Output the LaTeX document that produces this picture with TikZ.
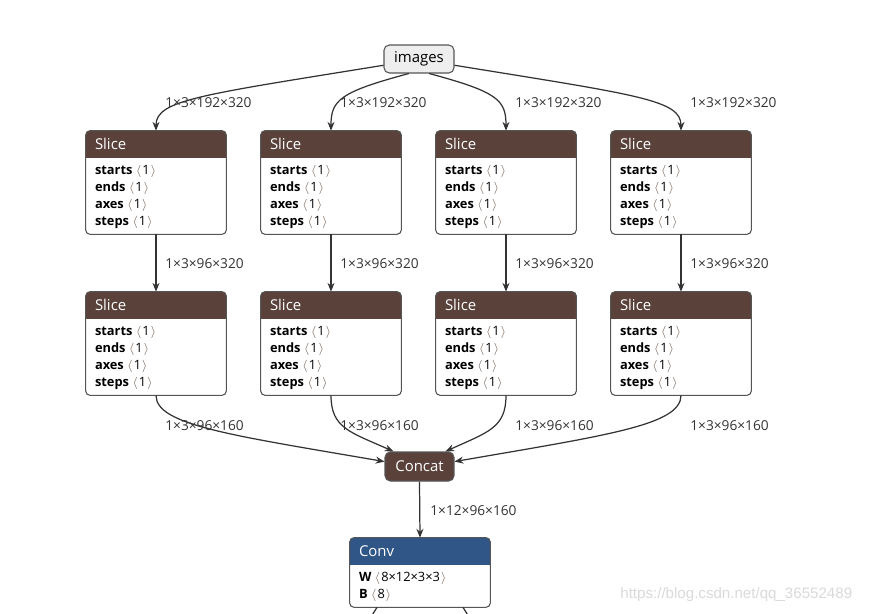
\documentclass[tikz,border=0pt]{standalone}
\usepackage{fontspec}
\setmainfont{Open Sans}
\newfontfamily\markfont{Liberation Sans}
\usetikzlibrary{positioning,calc,arrows.meta}
\definecolor{SliceBrown}{HTML}{5A423B}
\definecolor{ConvBlue}{HTML}{2F5687}
\definecolor{InputGrey}{HTML}{EEEEEE}
\definecolor{EdgeDark}{HTML}{333333}
\definecolor{BoxLine}{HTML}{555555}
\definecolor{AttrGrey}{HTML}{7A6A60}
\definecolor{MarkGrey}{HTML}{DADADA}

% value in angle brackets
\newcommand{\dimv}[1]{\textcolor{AttrGrey}{$\langle$}\kern0.5pt#1\kern0.5pt\textcolor{AttrGrey}{$\rangle$}}
% operator box: name, options, centre, header colour, title, attributes
\newcommand{\opbox}[6]{%
  \node[opbody,#2] (#1) at (#3) {};
  \fill[#4,rounded corners=2.5pt] (#1.north west) rectangle ($(#1.north east)+(0,27)$);
  \fill[#4] ($(#1.north west)+(0,20)$) rectangle ($(#1.north east)+(0,27)$);
  \draw[boxline] (#1.north west) rectangle (#1.south east);
  \node[optitle] at ($(#1.north west)+(9,13.5)$) {#5};
  \node[attrlist] at ($(#1.north west)+(9,34.5)$) {#6};
}

\begin{document}
\begin{tikzpicture}[x=0.02cm, y=-0.02cm, >={Stealth[length=5pt,width=4pt]},
  opbody/.style={fill=white, rounded corners=2.5pt, minimum width=2.8cm, inner sep=0},
  boxline/.style={draw=BoxLine, line width=0.6pt, rounded corners=2.5pt},
  optitle/.style={anchor=west, inner sep=0, text=white, font=\fontsize{8.5}{10}\selectfont},
  attrlist/.style={anchor=north west, inner sep=0, align=left, font=\fontsize{7.3}{9.67}\selectfont},
  dimlabel/.style={anchor=west, inner sep=0, text=EdgeDark, font=\fontsize{7.8}{9}\selectfont},
  flow/.style={->, draw=EdgeDark, line width=0.7pt},
  inputnode/.style={draw=BoxLine, line width=0.6pt, fill=InputGrey, rounded corners=3pt, minimum width=1.4cm, minimum height=0.56cm, inner sep=0, font=\fontsize{8.5}{10}\selectfont},
  concatnode/.style={draw=BoxLine, line width=0.6pt, fill=SliceBrown, text=white, rounded corners=3pt, minimum width=1.38cm, minimum height=0.58cm, inner sep=0, font=\fontsize{8.5}{10}\selectfont}]
  \useasboundingbox[fill=white] (0,0) rectangle (873,613);
  \clip (0,0) rectangle (873,613);

  \node[inputnode] (images) at (419,59) {images};

  % two rows of Slice
  \foreach \col/\cx in {1/156, 2/331, 3/506, 4/681} {
    \opbox{sliceA\col}{minimum height=2.06cm}{\cx,182.5}{SliceBrown}{Slice}{\textbf{starts} \dimv{1}\\\textbf{ends} \dimv{1}\\\textbf{axes} \dimv{1}\\\textbf{steps} \dimv{1}}
    \opbox{sliceB\col}{minimum height=2.06cm}{\cx,343.5}{SliceBrown}{Slice}{\textbf{starts} \dimv{1}\\\textbf{ends} \dimv{1}\\\textbf{axes} \dimv{1}\\\textbf{steps} \dimv{1}}
    \draw[flow] (sliceA\col.south) -- (sliceB\col.north);
    \node[dimlabel] at ($(sliceA\col.north)+(9,-28)$) {1×3×192×320};
    \node[dimlabel] at ($(sliceB\col.north)+(9,-28)$) {1×3×96×320};
    \node[dimlabel] at ($(sliceB\col.south)+(9,30)$) {1×3×96×160};
  }

  \node[concatnode] (concat) at (419.5,466.5) {Concat};
  \opbox{conv}{minimum height=1.38cm}{420,572.5}{ConvBlue}{Conv}{\textbf{W} \dimv{8×12×3×3}\\\textbf{B} \dimv{8}}

  \draw[flow] (images.190) .. controls (200,95) and (156,100) .. (sliceA1.north);
  \draw[flow] (images.235) .. controls (340,92) and (331,100) .. (sliceA2.north);
  \draw[flow] (images.305) .. controls (498,92) and (506,100) .. (sliceA3.north);
  \draw[flow] (images.350) .. controls (638,95) and (681,100) .. (sliceA4.north);

  \draw[flow] (sliceB1.south) .. controls (156,425) and (230,435) .. (concat.172);
  \draw[flow] (sliceB2.south) .. controls (331,428) and (350,432) .. (concat.150);
  \draw[flow] (sliceB3.south) .. controls (506,428) and (488,432) .. (concat.30);
  \draw[flow] (sliceB4.south) .. controls (681,425) and (608,435) .. (concat.8);

  \draw[flow] (concat.south) -- (conv.north);
  \node[dimlabel] at ($(conv.north)+(10,-27)$) {1×12×96×160};

  % outgoing edges below Conv, cut by the frame
  \coordinate (outL) at (366,625);
  \coordinate (outR) at (474,625);
  \draw[flow,-] ($(conv.south)+(-43,0)$) -- (outL);
  \draw[flow,-] ($(conv.south)+(43,0)$) -- (outR);

  \node[anchor=west, inner sep=0, text=MarkGrey, font=\markfont\fontsize{8.6}{10}\selectfont] (mark) at (620,595) {https://blog.csdn.net/qq\_36552489};
\end{tikzpicture}
\end{document}
